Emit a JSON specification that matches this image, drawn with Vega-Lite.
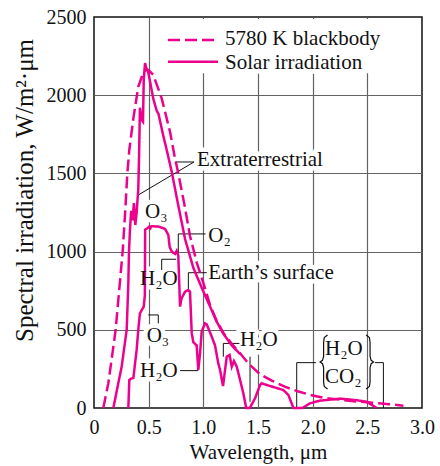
{
  "$schema": "https://vega.github.io/schema/vega-lite/v6.json",
  "width": 328,
  "height": 391,
  "autosize": "none",
  "padding": {"left": 94, "top": 17, "right": 18, "bottom": 58},
  "config": {
    "font": "Liberation Serif",
    "view": {"stroke": "#111111", "strokeWidth": 1.5},
    "axis": {
      "labelFont": "Liberation Serif",
      "titleFont": "Liberation Serif",
      "labelFontSize": 20,
      "titleFontSize": 21,
      "titleFontWeight": "normal",
      "labelColor": "#111111",
      "titleColor": "#111111",
      "gridColor": "#636363",
      "gridWidth": 1.2
    }
  },
  "datasets": {
    "curves": [
      {"series": "5780 K blackbody", "part": "Blackbody", "x": 0.085, "y": 0},
      {"series": "5780 K blackbody", "part": "Blackbody", "x": 0.131, "y": 158},
      {"series": "5780 K blackbody", "part": "Blackbody", "x": 0.165, "y": 330},
      {"series": "5780 K blackbody", "part": "Blackbody", "x": 0.198, "y": 500},
      {"series": "5780 K blackbody", "part": "Blackbody", "x": 0.23, "y": 750},
      {"series": "5780 K blackbody", "part": "Blackbody", "x": 0.262, "y": 1000},
      {"series": "5780 K blackbody", "part": "Blackbody", "x": 0.285, "y": 1250},
      {"series": "5780 K blackbody", "part": "Blackbody", "x": 0.305, "y": 1500},
      {"series": "5780 K blackbody", "part": "Blackbody", "x": 0.323, "y": 1650},
      {"series": "5780 K blackbody", "part": "Blackbody", "x": 0.36, "y": 1852},
      {"series": "5780 K blackbody", "part": "Blackbody", "x": 0.405, "y": 2054},
      {"series": "5780 K blackbody", "part": "Blackbody", "x": 0.45, "y": 2145},
      {"series": "5780 K blackbody", "part": "Blackbody", "x": 0.48, "y": 2167},
      {"series": "5780 K blackbody", "part": "Blackbody", "x": 0.5, "y": 2160},
      {"series": "5780 K blackbody", "part": "Blackbody", "x": 0.543, "y": 2129},
      {"series": "5780 K blackbody", "part": "Blackbody", "x": 0.619, "y": 1980},
      {"series": "5780 K blackbody", "part": "Blackbody", "x": 0.695, "y": 1767},
      {"series": "5780 K blackbody", "part": "Blackbody", "x": 0.741, "y": 1596},
      {"series": "5780 K blackbody", "part": "Blackbody", "x": 0.771, "y": 1500},
      {"series": "5780 K blackbody", "part": "Blackbody", "x": 0.83, "y": 1290},
      {"series": "5780 K blackbody", "part": "Blackbody", "x": 0.878, "y": 1100},
      {"series": "5780 K blackbody", "part": "Blackbody", "x": 0.94, "y": 930},
      {"series": "5780 K blackbody", "part": "Blackbody", "x": 1.0, "y": 800},
      {"series": "5780 K blackbody", "part": "Blackbody", "x": 1.061, "y": 660},
      {"series": "5780 K blackbody", "part": "Blackbody", "x": 1.12, "y": 560},
      {"series": "5780 K blackbody", "part": "Blackbody", "x": 1.183, "y": 480},
      {"series": "5780 K blackbody", "part": "Blackbody", "x": 1.26, "y": 410},
      {"series": "5780 K blackbody", "part": "Blackbody", "x": 1.336, "y": 350},
      {"series": "5780 K blackbody", "part": "Blackbody", "x": 1.412, "y": 285},
      {"series": "5780 K blackbody", "part": "Blackbody", "x": 1.519, "y": 215},
      {"series": "5780 K blackbody", "part": "Blackbody", "x": 1.626, "y": 175},
      {"series": "5780 K blackbody", "part": "Blackbody", "x": 1.75, "y": 135},
      {"series": "5780 K blackbody", "part": "Blackbody", "x": 1.87, "y": 105},
      {"series": "5780 K blackbody", "part": "Blackbody", "x": 2.0, "y": 80},
      {"series": "5780 K blackbody", "part": "Blackbody", "x": 2.1, "y": 65},
      {"series": "5780 K blackbody", "part": "Blackbody", "x": 2.25, "y": 53},
      {"series": "5780 K blackbody", "part": "Blackbody", "x": 2.4, "y": 42},
      {"series": "5780 K blackbody", "part": "Blackbody", "x": 2.55, "y": 33},
      {"series": "5780 K blackbody", "part": "Blackbody", "x": 2.7, "y": 24},
      {"series": "5780 K blackbody", "part": "Blackbody", "x": 2.83, "y": 15},

      {"series": "Solar irradiation", "part": "Extraterrestrial", "x": 0.177, "y": 0},
      {"series": "Solar irradiation", "part": "Extraterrestrial", "x": 0.222, "y": 158},
      {"series": "Solar irradiation", "part": "Extraterrestrial", "x": 0.253, "y": 264},
      {"series": "Solar irradiation", "part": "Extraterrestrial", "x": 0.299, "y": 500},
      {"series": "Solar irradiation", "part": "Extraterrestrial", "x": 0.314, "y": 797},
      {"series": "Solar irradiation", "part": "Extraterrestrial", "x": 0.32, "y": 1000},
      {"series": "Solar irradiation", "part": "Extraterrestrial", "x": 0.329, "y": 1140},
      {"series": "Solar irradiation", "part": "Extraterrestrial", "x": 0.34, "y": 1260},
      {"series": "Solar irradiation", "part": "Extraterrestrial", "x": 0.352, "y": 1200},
      {"series": "Solar irradiation", "part": "Extraterrestrial", "x": 0.365, "y": 1310},
      {"series": "Solar irradiation", "part": "Extraterrestrial", "x": 0.378, "y": 1170},
      {"series": "Solar irradiation", "part": "Extraterrestrial", "x": 0.39, "y": 1250},
      {"series": "Solar irradiation", "part": "Extraterrestrial", "x": 0.405, "y": 1400},
      {"series": "Solar irradiation", "part": "Extraterrestrial", "x": 0.412, "y": 1600},
      {"series": "Solar irradiation", "part": "Extraterrestrial", "x": 0.42, "y": 1920},
      {"series": "Solar irradiation", "part": "Extraterrestrial", "x": 0.437, "y": 1840},
      {"series": "Solar irradiation", "part": "Extraterrestrial", "x": 0.448, "y": 1830},
      {"series": "Solar irradiation", "part": "Extraterrestrial", "x": 0.455, "y": 2100},
      {"series": "Solar irradiation", "part": "Extraterrestrial", "x": 0.467, "y": 2205},
      {"series": "Solar irradiation", "part": "Extraterrestrial", "x": 0.48, "y": 2170},
      {"series": "Solar irradiation", "part": "Extraterrestrial", "x": 0.497, "y": 2145},
      {"series": "Solar irradiation", "part": "Extraterrestrial", "x": 0.543, "y": 1975},
      {"series": "Solar irradiation", "part": "Extraterrestrial", "x": 0.574, "y": 1900},
      {"series": "Solar irradiation", "part": "Extraterrestrial", "x": 0.59, "y": 1880},
      {"series": "Solar irradiation", "part": "Extraterrestrial", "x": 0.634, "y": 1740},
      {"series": "Solar irradiation", "part": "Extraterrestrial", "x": 0.665, "y": 1650},
      {"series": "Solar irradiation", "part": "Extraterrestrial", "x": 0.711, "y": 1510},
      {"series": "Solar irradiation", "part": "Extraterrestrial", "x": 0.761, "y": 1330},
      {"series": "Solar irradiation", "part": "Extraterrestrial", "x": 0.833, "y": 1080},
      {"series": "Solar irradiation", "part": "Extraterrestrial", "x": 0.909, "y": 895},
      {"series": "Solar irradiation", "part": "Extraterrestrial", "x": 1.0, "y": 745},
      {"series": "Solar irradiation", "part": "Extraterrestrial", "x": 1.061, "y": 650},
      {"series": "Solar irradiation", "part": "Extraterrestrial", "x": 1.12, "y": 555},
      {"series": "Solar irradiation", "part": "Extraterrestrial", "x": 1.183, "y": 475},
      {"series": "Solar irradiation", "part": "Extraterrestrial", "x": 1.26, "y": 400},
      {"series": "Solar irradiation", "part": "Extraterrestrial", "x": 1.336, "y": 345},

      {"series": "Solar irradiation", "part": "Earth's surface", "x": 0.314, "y": 0},
      {"series": "Solar irradiation", "part": "Earth's surface", "x": 0.323, "y": 179},
      {"series": "Solar irradiation", "part": "Earth's surface", "x": 0.34, "y": 188},
      {"series": "Solar irradiation", "part": "Earth's surface", "x": 0.36, "y": 192},
      {"series": "Solar irradiation", "part": "Earth's surface", "x": 0.39, "y": 371},
      {"series": "Solar irradiation", "part": "Earth's surface", "x": 0.405, "y": 500},
      {"series": "Solar irradiation", "part": "Earth's surface", "x": 0.42, "y": 605},
      {"series": "Solar irradiation", "part": "Earth's surface", "x": 0.44, "y": 630},
      {"series": "Solar irradiation", "part": "Earth's surface", "x": 0.455, "y": 648},
      {"series": "Solar irradiation", "part": "Earth's surface", "x": 0.465, "y": 720},
      {"series": "Solar irradiation", "part": "Earth's surface", "x": 0.468, "y": 1140},
      {"series": "Solar irradiation", "part": "Earth's surface", "x": 0.49, "y": 1150},
      {"series": "Solar irradiation", "part": "Earth's surface", "x": 0.505, "y": 1160},
      {"series": "Solar irradiation", "part": "Earth's surface", "x": 0.515, "y": 1150},
      {"series": "Solar irradiation", "part": "Earth's surface", "x": 0.525, "y": 1162},
      {"series": "Solar irradiation", "part": "Earth's surface", "x": 0.59, "y": 1160},
      {"series": "Solar irradiation", "part": "Earth's surface", "x": 0.65, "y": 1145},
      {"series": "Solar irradiation", "part": "Earth's surface", "x": 0.68, "y": 1106},
      {"series": "Solar irradiation", "part": "Earth's surface", "x": 0.692, "y": 1030},
      {"series": "Solar irradiation", "part": "Earth's surface", "x": 0.711, "y": 1000},
      {"series": "Solar irradiation", "part": "Earth's surface", "x": 0.741, "y": 985},
      {"series": "Solar irradiation", "part": "Earth's surface", "x": 0.756, "y": 1005},
      {"series": "Solar irradiation", "part": "Earth's surface", "x": 0.771, "y": 975},
      {"series": "Solar irradiation", "part": "Earth's surface", "x": 0.787, "y": 648},
      {"series": "Solar irradiation", "part": "Earth's surface", "x": 0.8, "y": 700},
      {"series": "Solar irradiation", "part": "Earth's surface", "x": 0.833, "y": 744},
      {"series": "Solar irradiation", "part": "Earth's surface", "x": 0.863, "y": 754},
      {"series": "Solar irradiation", "part": "Earth's surface", "x": 0.878, "y": 744},
      {"series": "Solar irradiation", "part": "Earth's surface", "x": 0.894, "y": 477},
      {"series": "Solar irradiation", "part": "Earth's surface", "x": 0.909, "y": 420},
      {"series": "Solar irradiation", "part": "Earth's surface", "x": 0.939, "y": 400},
      {"series": "Solar irradiation", "part": "Earth's surface", "x": 0.954, "y": 243},
      {"series": "Solar irradiation", "part": "Earth's surface", "x": 0.97, "y": 350},
      {"series": "Solar irradiation", "part": "Earth's surface", "x": 0.985, "y": 490},
      {"series": "Solar irradiation", "part": "Earth's surface", "x": 1.016, "y": 541},
      {"series": "Solar irradiation", "part": "Earth's surface", "x": 1.031, "y": 535},
      {"series": "Solar irradiation", "part": "Earth's surface", "x": 1.046, "y": 509},
      {"series": "Solar irradiation", "part": "Earth's surface", "x": 1.077, "y": 456},
      {"series": "Solar irradiation", "part": "Earth's surface", "x": 1.107, "y": 400},
      {"series": "Solar irradiation", "part": "Earth's surface", "x": 1.137, "y": 285},
      {"series": "Solar irradiation", "part": "Earth's surface", "x": 1.153, "y": 243},
      {"series": "Solar irradiation", "part": "Earth's surface", "x": 1.18, "y": 140},
      {"series": "Solar irradiation", "part": "Earth's surface", "x": 1.214, "y": 328},
      {"series": "Solar irradiation", "part": "Earth's surface", "x": 1.24, "y": 339},
      {"series": "Solar irradiation", "part": "Earth's surface", "x": 1.26, "y": 264},
      {"series": "Solar irradiation", "part": "Earth's surface", "x": 1.28, "y": 300},
      {"series": "Solar irradiation", "part": "Earth's surface", "x": 1.306, "y": 264},
      {"series": "Solar irradiation", "part": "Earth's surface", "x": 1.336, "y": 179},
      {"series": "Solar irradiation", "part": "Earth's surface", "x": 1.366, "y": 94},
      {"series": "Solar irradiation", "part": "Earth's surface", "x": 1.392, "y": 0},
      {"series": "Solar irradiation", "part": "Earth's surface", "x": 1.425, "y": 0},
      {"series": "Solar irradiation", "part": "Earth's surface", "x": 1.473, "y": 62},
      {"series": "Solar irradiation", "part": "Earth's surface", "x": 1.519, "y": 147},
      {"series": "Solar irradiation", "part": "Earth's surface", "x": 1.534, "y": 158},
      {"series": "Solar irradiation", "part": "Earth's surface", "x": 1.58, "y": 147},
      {"series": "Solar irradiation", "part": "Earth's surface", "x": 1.67, "y": 128},
      {"series": "Solar irradiation", "part": "Earth's surface", "x": 1.732, "y": 115},
      {"series": "Solar irradiation", "part": "Earth's surface", "x": 1.778, "y": 83},
      {"series": "Solar irradiation", "part": "Earth's surface", "x": 1.824, "y": 0},
      {"series": "Solar irradiation", "part": "Earth's surface", "x": 1.905, "y": 0},
      {"series": "Solar irradiation", "part": "Earth's surface", "x": 1.976, "y": 30},
      {"series": "Solar irradiation", "part": "Earth's surface", "x": 2.068, "y": 47},
      {"series": "Solar irradiation", "part": "Earth's surface", "x": 2.25, "y": 60},
      {"series": "Solar irradiation", "part": "Earth's surface", "x": 2.4, "y": 50},
      {"series": "Solar irradiation", "part": "Earth's surface", "x": 2.495, "y": 40},
      {"series": "Solar irradiation", "part": "Earth's surface", "x": 2.586, "y": 0}
    ],
    "labels": [
      {"label": "Extraterrestrial", "x": 0.942, "y": 1546},
      {"label": "O₃", "x": 0.467, "y": 1213},
      {"label": "O₂", "x": 1.046, "y": 1063},
      {"label": "H₂O", "x": 0.421, "y": 786},
      {"label": "Earth’s surface", "x": 1.046, "y": 826},
      {"label": "O₃", "x": 0.482, "y": 424},
      {"label": "H₂O", "x": 0.421, "y": 200},
      {"label": "H₂O", "x": 1.336, "y": 394},
      {"label": "H₂O", "x": 2.113, "y": 339},
      {"label": "CO₂", "x": 2.113, "y": 158},
      {"label": "5780 K blackbody", "x": 1.199, "y": 2320},
      {"label": "Solar irradiation", "x": 1.199, "y": 2168}
    ],
    "leaders": [
      {"x": 0.745, "y": 1573, "x2": 0.915, "y2": 1573},
      {"x": 0.915, "y": 1573, "x2": 0.405, "y2": 1362},
      {"x": 0.771, "y": 1113, "x2": 1.02, "y2": 1113},
      {"x": 0.771, "y": 1113, "x2": 0.771, "y2": 990},
      {"x": 0.619, "y": 951, "x2": 0.75, "y2": 951},
      {"x": 0.619, "y": 951, "x2": 0.619, "y2": 882},
      {"x": 0.863, "y": 865, "x2": 1.031, "y2": 865},
      {"x": 0.863, "y": 865, "x2": 0.863, "y2": 754},
      {"x": 0.497, "y": 595, "x2": 0.588, "y2": 595},
      {"x": 0.588, "y": 595, "x2": 0.588, "y2": 541},
      {"x": 0.787, "y": 239, "x2": 0.954, "y2": 239},
      {"x": 1.183, "y": 413, "x2": 1.33, "y2": 413},
      {"x": 1.183, "y": 413, "x2": 1.183, "y2": 328},
      {"x": 1.427, "y": 328, "x2": 1.427, "y2": 40},
      {"x": 1.854, "y": 290, "x2": 2.03, "y2": 290},
      {"x": 1.854, "y": 290, "x2": 1.854, "y2": 0},
      {"x": 2.57, "y": 290, "x2": 2.647, "y2": 290},
      {"x": 2.647, "y": 290, "x2": 2.647, "y2": 0}
    ],
    "braces": [
      {"brace": "left", "i": 0, "x": 2.136, "y": 467},
      {"brace": "left", "i": 1, "x": 2.106, "y": 450},
      {"brace": "left", "i": 2, "x": 2.1, "y": 420},
      {"brace": "left", "i": 3, "x": 2.1, "y": 330},
      {"brace": "left", "i": 4, "x": 2.09, "y": 305},
      {"brace": "left", "i": 5, "x": 2.068, "y": 294},
      {"brace": "left", "i": 6, "x": 2.09, "y": 283},
      {"brace": "left", "i": 7, "x": 2.1, "y": 258},
      {"brace": "left", "i": 8, "x": 2.1, "y": 165},
      {"brace": "left", "i": 9, "x": 2.106, "y": 138},
      {"brace": "left", "i": 10, "x": 2.136, "y": 121},
      {"brace": "right", "i": 0, "x": 2.489, "y": 467},
      {"brace": "right", "i": 1, "x": 2.519, "y": 450},
      {"brace": "right", "i": 2, "x": 2.525, "y": 420},
      {"brace": "right", "i": 3, "x": 2.525, "y": 330},
      {"brace": "right", "i": 4, "x": 2.535, "y": 305},
      {"brace": "right", "i": 5, "x": 2.557, "y": 294},
      {"brace": "right", "i": 6, "x": 2.535, "y": 283},
      {"brace": "right", "i": 7, "x": 2.525, "y": 258},
      {"brace": "right", "i": 8, "x": 2.525, "y": 165},
      {"brace": "right", "i": 9, "x": 2.519, "y": 138},
      {"brace": "right", "i": 10, "x": 2.489, "y": 121}
    ],
    "legendSamples": [
      {"series": "5780 K blackbody", "x": 0.677, "x2": 1.134, "y": 2353},
      {"series": "Solar irradiation", "x": 0.677, "x2": 1.134, "y": 2214}
    ],
    "legendBox": [
      {"x": 0.65, "x2": 2.75, "y": 2140, "y2": 2488}
    ],
    "minorTicks": [
      {"y": 100}, {"y": 200}, {"y": 300}, {"y": 400}, {"y": 600}, {"y": 700}, {"y": 800}, {"y": 900},
      {"y": 1100}, {"y": 1200}, {"y": 1300}, {"y": 1400}, {"y": 1600}, {"y": 1700}, {"y": 1800}, {"y": 1900},
      {"y": 2100}, {"y": 2200}, {"y": 2300}, {"y": 2400}
    ]
  },
  "encoding": {
    "x": {
      "field": "x", "type": "quantitative", "scale": {"domain": [0, 3], "nice": false},
      "axis": {
        "title": "Wavelength, μm",
        "values": [0, 0.5, 1, 1.5, 2, 2.5, 3],
        "labelExpr": "datum.value === 0 ? '0' : format(datum.value, '.1f')",
        "labelFlush": false, "labelOverlap": false,
        "ticks": false, "domain": false, "labelPadding": 9,
        "grid": true,
        "gridOpacity": {"condition": {"test": "datum.value > 0 && datum.value < 3", "value": 1}, "value": 0},
        "titleBaseline": "alphabetic", "titleY": 50
      }
    },
    "y": {
      "field": "y", "type": "quantitative", "scale": {"domain": [0, 2500], "nice": false},
      "axis": {
        "title": "Spectral irradiation, W/m²·μm",
        "values": [0, 500, 1000, 1500, 2000, 2500],
        "format": "d",
        "labelFlush": false, "labelOverlap": false,
        "ticks": false, "labelPadding": 8, "domain": false,
        "grid": true,
        "gridOpacity": {"condition": {"test": "datum.value > 0 && datum.value < 2500", "value": 1}, "value": 0},
        "titleFontSize": 25,
        "titleAngle": -90, "titleAlign": "center", "titleBaseline": "middle",
        "titleX": -70, "titleY": 173
      }
    }
  },
  "layer": [
    {
      "data": {"name": "legendBox"},
      "mark": {"type": "rect", "fill": "white"},
      "encoding": {
        "x2": {"field": "x2"},
        "y2": {"field": "y2"}
      }
    },
    {
      "data": {"name": "minorTicks"},
      "mark": {"type": "rule", "color": "#111111", "strokeWidth": 1.2},
      "encoding": {
        "x": {"datum": 0},
        "x2": {"datum": 0.064}
      }
    },
    {
      "data": {"name": "minorTicks"},
      "mark": {"type": "rule", "color": "#111111", "strokeWidth": 1.2},
      "encoding": {
        "x": {"datum": 2.936},
        "x2": {"datum": 3}
      }
    },
    {
      "data": {"name": "labels"},
      "mark": {"type": "text", "align": "left", "baseline": "alphabetic", "fontSize": 21, "font": "Liberation Serif", "fill": "white", "stroke": "white", "strokeWidth": 9, "strokeJoin": "round"},
      "encoding": {
        "text": {"field": "label"}
      }
    },
    {
      "data": {"name": "leaders"},
      "mark": {"type": "rule", "color": "#111111", "strokeWidth": 1},
      "encoding": {
        "x2": {"field": "x2"},
        "y2": {"field": "y2"}
      }
    },
    {
      "data": {"name": "braces"},
      "mark": {"type": "line", "color": "#111111", "strokeWidth": 1.2},
      "encoding": {
        "detail": {"field": "brace"},
        "order": {"field": "i"}
      }
    },
    {
      "data": {"name": "curves"},
      "mark": {"type": "line", "color": "#ec008c", "strokeWidth": 2.5},
      "encoding": {
        "detail": {"field": "part"},
        "strokeDash": {
          "field": "series", "type": "nominal",
          "scale": {"domain": ["5780 K blackbody", "Solar irradiation"], "range": [[12, 5], [1, 0]]},
          "legend": null
        }
      }
    },
    {
      "data": {"name": "legendSamples"},
      "mark": {"type": "rule", "color": "#ec008c", "strokeWidth": 2.5},
      "encoding": {
        "x2": {"field": "x2"},
        "strokeDash": {
          "field": "series", "type": "nominal",
          "scale": {"domain": ["5780 K blackbody", "Solar irradiation"], "range": [[12, 5], [1, 0]]},
          "legend": null
        }
      }
    },
    {
      "data": {"name": "labels"},
      "mark": {"type": "text", "align": "left", "baseline": "alphabetic", "fontSize": 21, "font": "Liberation Serif", "fill": "#111111"},
      "encoding": {
        "text": {"field": "label"}
      }
    }
  ]
}
